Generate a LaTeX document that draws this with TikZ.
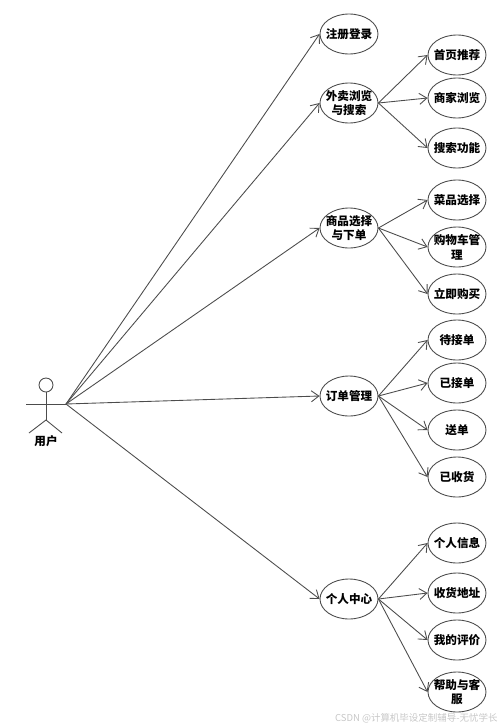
\documentclass[tikz,border=0pt]{standalone}
\usepackage{fontspec}
\setmainfont{Noto Sans CJK SC}
\usetikzlibrary{shapes.geometric, arrows.meta}

\begin{document}
\begin{tikzpicture}[
        x=0.02cm, y=-0.02cm,
        usecase/.style={draw=black!70, ellipse, inner xsep=-4pt, inner ysep=-1pt, minimum width=1.16cm, minimum height=0.8cm, line width=0.5pt, align=center, font=\fontsize{6.6}{8.4}\selectfont\bfseries},
        arrow/.style={-{Straight Barb[length=1.5mm, width=2.2mm]}, draw=black!70, line width=0.5pt},
        actorline/.style={draw=black!70, line width=0.5pt}
    ]
    \useasboundingbox (0,0) rectangle (500,727);

    % Actor
    \node[draw=black!70, circle, minimum size=0.28cm, inner sep=0pt, line width=0.5pt] (head) at (46,385) {};
    \coordinate (hip) at (46,420);
    \coordinate (armL) at (26,404);
    \coordinate (armR) at (66,404);
    \coordinate (legL) at (29,433);
    \coordinate (legR) at (62,433);
    \draw[actorline] (head) -- (hip);
    \draw[actorline] (armL) -- (armR);
    \draw[actorline] (legL) -- (hip) -- (legR);
    \node[font=\fontsize{6.6}{8.4}\selectfont\bfseries] (user) at (46,441) {用户};

    % Main use cases
    \node[usecase] (login) at (349,34) {注册登录};
    \node[usecase] (browse) at (349,103) {外卖浏览\\与搜索};
    \node[usecase] (order) at (349,228) {商品选择\\与下单};
    \node[usecase] (manage) at (349,396) {订单管理};
    \node[usecase] (center) at (349,599) {个人中心};

    % Browse and search
    \node[usecase] (b1) at (457,55) {首页推荐};
    \node[usecase] (b2) at (457,98) {商家浏览};
    \node[usecase] (b3) at (457,148) {搜索功能};

    % Select and order
    \node[usecase] (o1) at (457,200) {菜品选择};
    \node[usecase] (o2) at (457,247) {购物车管\\理};
    \node[usecase] (o3) at (457,294) {立即购买};

    % Order management
    \node[usecase] (m1) at (457,340) {待接单};
    \node[usecase] (m2) at (457,383) {已接单};
    \node[usecase] (m3) at (457,430) {送单};
    \node[usecase] (m4) at (457,477) {已收货};

    % Personal center
    \node[usecase] (c1) at (457,543) {个人信息};
    \node[usecase] (c2) at (457,593) {收货地址};
    \node[usecase] (c3) at (457,640) {我的评价};
    \node[usecase] (c4) at (457,692) {帮助与客\\服};

    % Watermark
    \node[font=\fontsize{5.4}{7}\selectfont, text=black!22, anchor=east, inner sep=0pt] (mark) at (498,718) {CSDN @计算机毕设定制辅导-无忧学长};

    % Arrows from the actor
    \foreach \target in {login, browse, order, manage, center}
        \draw[arrow] (armR) -- (\target.west);

    % Arrows to the sub cases
    \foreach \target in {b1, b2, b3}
        \draw[arrow] (browse.east) -- (\target.west);
    \foreach \target in {o1, o2, o3}
        \draw[arrow] (order.east) -- (\target.west);
    \foreach \target in {m1, m2, m3, m4}
        \draw[arrow] (manage.east) -- (\target.west);
    \foreach \target in {c1, c2, c3, c4}
        \draw[arrow] (center.east) -- (\target.west);

\end{tikzpicture}
\end{document}
